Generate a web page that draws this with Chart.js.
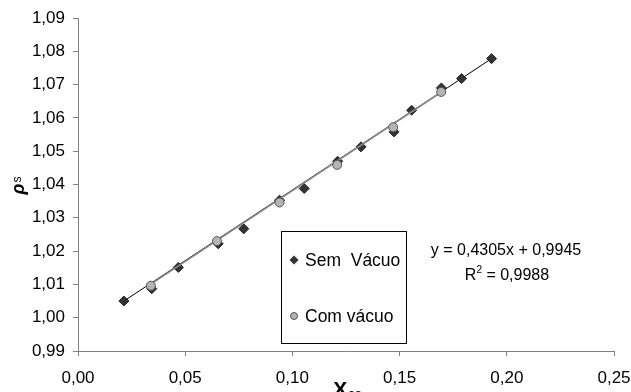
<!DOCTYPE html>
<html>
<head>
<meta charset="utf-8">
<script src="https://cdn.jsdelivr.net/npm/chart.js@4/dist/chart.umd.min.js"></script>
<style>
html,body{margin:0;padding:0;background:#fff;}
#wrap{width:631px;height:392px;position:relative;}
</style>
</head>
<body>
<div id="wrap"><canvas id="c" width="631" height="392"></canvas></div>
<script>
// Sem Vácuo (diamonds)
const semX = [0.0214, 0.0344, 0.0468, 0.0654, 0.0773, 0.0940, 0.1055, 0.1211, 0.1320, 0.1474, 0.1556, 0.1695, 0.1789, 0.1929];
const semY = [1.0050, 1.0087, 1.0151, 1.0222, 1.0267, 1.0353, 1.0388, 1.0470, 1.0513, 1.0558, 1.0623, 1.0690, 1.0718, 1.0778];
// Com vácuo (circles)
const comX = [0.0340, 0.0648, 0.0940, 0.1209, 0.1470, 0.1694];
const comY = [1.0096, 1.0230, 1.0346, 1.0459, 1.0572, 1.0678];
// trend lines (end points)
const trendSemX = [0.0214, 0.1929];
const trendSemY = [1.0050, 1.0778];
const trendComX = [0.0340, 0.1694];
const trendComY = [1.0101, 1.0677];
// axis ticks
const xTicks = [0.00, 0.05, 0.10, 0.15, 0.20, 0.25];
const yTicks = [0.99, 1.00, 1.01, 1.02, 1.03, 1.04, 1.05, 1.06, 1.07, 1.08, 1.09];
const legendLabels = ['Sem  Vácuo', 'Com vácuo'];
const eqText = 'y = 0,4305x + 0,9945';
const r2Text = ['R', '2', ' = 0,9988'];

const FONT = '"Liberation Sans", Arial, Helvetica, sans-serif';
const pts = (xs, ys) => xs.map((x, i) => ({x: x, y: ys[i]}));
const fmt = v => v.toFixed(2).replace('.', ',');

const overlay = {
  id: 'overlay',
  afterDraw(chart) {
    const ctx = chart.ctx;
    ctx.save();
    // legend box
    ctx.strokeStyle = '#000';
    ctx.lineWidth = 1;
    ctx.strokeRect(281.5, 231.5, 125, 112);
    // legend markers
    ctx.fillStyle = '#333';
    ctx.beginPath();
    ctx.moveTo(294, 255.5); ctx.lineTo(298.5, 260); ctx.lineTo(294, 264.5); ctx.lineTo(289.5, 260); ctx.closePath();
    ctx.fill();
    ctx.fillStyle = '#b4b4b4'; ctx.strokeStyle = '#555';
    ctx.beginPath(); ctx.arc(294, 316, 3.5, 0, Math.PI*2); ctx.fill(); ctx.stroke();
    // legend texts
    ctx.fillStyle = '#000';
    ctx.font = '17.5px ' + FONT;
    ctx.textBaseline = 'middle';
    ctx.textAlign = 'left';
    ctx.fillText(legendLabels[0], 305, 261);
    ctx.fillText(legendLabels[1], 305, 317);
    // equation
    ctx.font = '16px ' + FONT;
    ctx.textAlign = 'center';
    ctx.fillText(eqText, 506, 251);
    // R^2
    ctx.textAlign = 'left';
    const w1 = ctx.measureText(r2Text[0]).width;
    ctx.font = '10px ' + FONT;
    const w2 = ctx.measureText(r2Text[1]).width;
    ctx.font = '16px ' + FONT;
    const w3 = ctx.measureText(r2Text[2]).width;
    let x0 = 507 - (w1 + w2 + w3) / 2;
    ctx.fillText(r2Text[0], x0, 276);
    ctx.font = '10px ' + FONT;
    ctx.fillText(r2Text[1], x0 + w1, 270);
    ctx.font = '16px ' + FONT;
    ctx.fillText(r2Text[2], x0 + w1 + w2, 276);
    // y-axis title (rotated)
    ctx.save();
    ctx.translate(19, 186);
    ctx.rotate(-Math.PI / 2);
    ctx.textBaseline = 'alphabetic';
    ctx.font = 'bold italic 18px ' + FONT;
    const wr = ctx.measureText('ρ').width;
    ctx.font = '12px ' + FONT;
    const ws = ctx.measureText('s').width;
    let sx = -(wr + ws) / 2;
    ctx.font = 'bold italic 18px ' + FONT;
    ctx.fillText('ρ', sx, 5);
    ctx.font = '12px ' + FONT;
    ctx.fillText('s', sx + wr + 1, 2);
    ctx.restore();
    // x-axis title
    ctx.textBaseline = 'alphabetic';
    ctx.font = 'bold 21px ' + FONT;
    const wx = ctx.measureText('X').width;
    ctx.font = 'bold 12px ' + FONT;
    const wss = ctx.measureText('ss').width;
    let tx = 347 - (wx + wss) / 2;
    ctx.font = 'bold 21px ' + FONT;
    ctx.fillText('X', tx, 396);
    ctx.font = 'bold 12px ' + FONT;
    ctx.fillText('ss', tx + wx + 1, 398);
    ctx.restore();
  }
};

new Chart(document.getElementById('c'), {
  type: 'scatter',
  data: {
    datasets: [
      { label: 'trendSem', type: 'line', data: pts(trendSemX, trendSemY), borderColor: '#000', borderWidth: 1, pointRadius: 0, fill: false, order: 3 },
      { label: legendLabels[0], data: pts(semX, semY), pointStyle: 'rectRot', pointRadius: 5, pointBackgroundColor: '#333', pointBorderColor: '#222', pointBorderWidth: 1, order: 2 },
      { label: 'trendCom', type: 'line', data: pts(trendComX, trendComY), borderColor: '#8a8a8a', borderWidth: 1.6, pointRadius: 0, fill: false, order: 1 },
      { label: legendLabels[1], data: pts(comX, comY), pointStyle: 'circle', pointRadius: 4.5, pointBackgroundColor: '#b4b4b4', pointBorderColor: '#555', pointBorderWidth: 1, order: 0 }
    ]
  },
  options: {
    responsive: false,
    animation: false,
    events: [],
    layout: { padding: { top: 18, right: 0, left: 0, bottom: 0 } },
    plugins: { legend: { display: false }, tooltip: { enabled: false } },
    scales: {
      x: {
        type: 'linear', min: 0, max: 0.25,
        afterBuildTicks: s => { s.ticks = xTicks.map(v => ({value: v})); },
        afterFit: s => { s.height = 41; s.paddingRight = 17; s.paddingLeft = 0; },
        border: { color: '#808080', width: 1 },
        grid: { drawOnChartArea: false, drawTicks: true, tickLength: 5, color: '#808080' },
        ticks: { color: '#000', font: { family: FONT, size: 17 }, padding: 12, maxRotation: 0, callback: v => fmt(v) }
      },
      y: {
        type: 'linear', min: 0.99, max: 1.09,
        afterBuildTicks: s => { s.ticks = yTicks.map(v => ({value: v})); },
        afterFit: s => { s.width = 78; s.paddingTop = 0; s.paddingBottom = 0; },
        border: { color: '#808080', width: 1 },
        grid: { drawOnChartArea: false, drawTicks: true, tickLength: 5, color: '#808080' },
        ticks: { color: '#000', font: { family: FONT, size: 17 }, padding: 8, callback: v => fmt(v) }
      }
    }
  },
  plugins: [overlay]
});
</script>
</body>
</html>
